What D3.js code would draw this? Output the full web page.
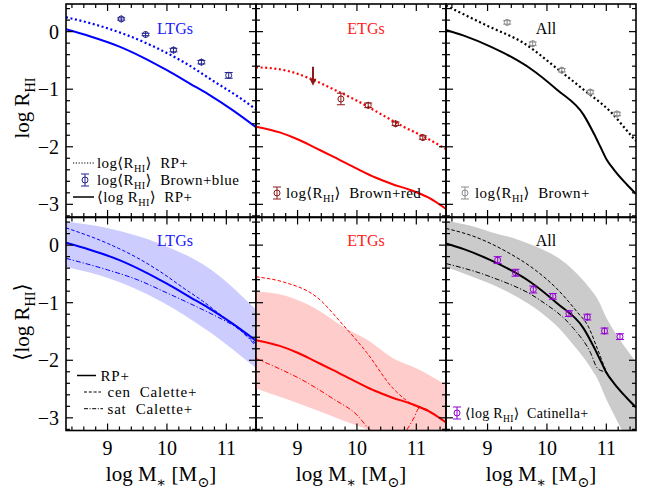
<!DOCTYPE html>
<html>
<head>
<meta charset="utf-8">
<script src="https://cdn.jsdelivr.net/npm/d3@7"></script>
<style>
    body { margin: 0; background: #fff; }
</style>
</head>
<body>
<svg id="chart" width="646" height="494"></svg>
<script>
// ---- top row: log R_HI ----
const ltgSolidX = [8.3, 8.7, 9.2, 9.6, 10.0, 10.4, 10.7, 11.1, 11.5];
const ltgSolidY = [0.04, -0.08, -0.26, -0.45, -0.67, -0.91, -1.09, -1.36, -1.66];
const ltgDotX = [8.3, 8.8, 9.3, 9.8, 10.3, 10.8, 11.2, 11.5];
const ltgDotY = [0.25, 0.12, -0.05, -0.27, -0.54, -0.87, -1.13, -1.35];
const brownBlueX = [9.23, 9.64, 10.11, 10.58, 11.04];
const brownBlueY = [0.22, -0.05, -0.32, -0.53, -0.76];
const brownBlueErr = [0.02, 0.02, 0.03, 0.03, 0.05];

const etgSolidX = [8.3, 8.7, 9.0, 9.3, 9.6, 10.0, 10.3, 10.6, 10.9, 11.2, 11.5];
const etgSolidY = [-1.65, -1.75, -1.87, -2.02, -2.17, -2.38, -2.53, -2.65, -2.75, -2.88, -3.08];
const etgDotX = [8.3, 8.6, 8.9, 9.2, 9.6, 10.0, 10.4, 10.8, 11.1, 11.5];
const etgDotY = [-0.62, -0.64, -0.70, -0.81, -1.0, -1.20, -1.43, -1.66, -1.81, -2.04];
const brownRedX = [9.73, 10.19, 10.65, 11.11];
const brownRedY = [-1.17, -1.28, -1.60, -1.84];
const brownRedErr = [0.1, 0.04, 0.03, 0.03];
const brownRedLimit = [9.26, -0.61, -0.94]; // x, from, to

const allSolidX = [8.3, 8.6, 9.05, 9.4, 9.72, 10.17, 10.62, 10.79, 10.9, 11.01, 11.13, 11.35, 11.5];
const allSolidY = [0.03, -0.07, -0.26, -0.44, -0.64, -1.01, -1.45, -1.77, -2.0, -2.23, -2.40, -2.66, -2.82];
const allDotX = [8.3, 8.54, 9.0, 9.61, 10.17, 10.62, 11.07, 11.43, 11.5];
const allDotY = [0.45, 0.33, 0.10, -0.20, -0.64, -1.01, -1.39, -1.82, -1.9];
const brownAllX = [9.33, 9.76, 10.25, 10.73, 11.18];
const brownAllY = [0.16, -0.21, -0.67, -1.05, -1.43];
const brownAllErr = [0.03, 0.03, 0.03, 0.03, 0.03];

// ---- bottom row: <log R_HI> ----
const ltgBandX = [8.3, 9.03, 9.87, 10.72, 11.5];
const ltgBandHi = [0.41, 0.29, 0.03, -0.41, -1.12];
const ltgBandLo = [-0.38, -0.58, -0.96, -1.51, -2.14];
const ltgCenX = [8.3, 9.0, 9.5, 9.9, 10.3, 10.6, 10.9, 11.2, 11.5];
const ltgCenY = [0.30, 0.03, -0.22, -0.47, -0.76, -0.97, -1.21, -1.45, -1.71];
const ltgSatX = [8.3, 9.0, 9.5, 10.0, 10.5, 10.8, 10.95, 11.2, 11.5];
const ltgSatY = [-0.23, -0.43, -0.60, -0.83, -1.07, -1.22, -1.30, -1.45, -1.75];

const etgBandX = [8.3, 8.8, 9.3, 9.8, 10.2, 10.6, 11.0, 11.5];
const etgBandHi = [-0.80, -0.88, -1.10, -1.44, -1.66, -1.96, -2.14, -2.43];
const etgBandLo = [-2.49, -2.67, -2.86, -3.06, -3.21, -3.37, -3.52, -3.71];
const etgCenX = [8.3, 8.76, 9.32, 9.77, 10.16, 10.61, 10.97, 11.2, 11.5];
const etgCenY = [-0.55, -0.64, -0.90, -1.39, -1.86, -2.49, -2.79, -2.88, -3.08];
const etgSatX = [8.3, 8.7, 9.04, 9.6, 10.0, 10.22, 10.45, 10.6, 10.7, 10.84, 10.95, 11.06, 11.3, 11.5];
const etgSatY = [-1.97, -2.15, -2.32, -2.67, -2.95, -3.21, -3.38, -3.45, -3.42, -3.21, -3.02, -2.82, -2.93, -3.08];

const allBandX = [8.3, 8.7, 9.05, 9.5, 9.89, 10.2, 10.45, 10.73, 10.85, 11.01, 11.18, 11.35, 11.5];
const allBandHi = [0.43, 0.34, 0.23, 0.10, -0.06, -0.23, -0.44, -0.76, -0.93, -1.28, -1.57, -1.82, -2.03];
const allBandLo = [-0.38, -0.53, -0.67, -0.90, -1.16, -1.44, -1.74, -2.12, -2.32, -2.70, -3.05, -3.40, -3.75];
const allCenX = [8.3, 8.8, 9.33, 9.8, 10.17, 10.5, 10.7, 10.85, 11.01, 11.13, 11.35, 11.5];
const allCenY = [0.29, 0.14, -0.12, -0.43, -0.76, -1.15, -1.42, -1.80, -2.21, -2.40, -2.66, -2.82];
const allSatX = [8.3, 9.05, 9.89, 10.45, 10.73, 10.85, 11.01, 11.13, 11.35, 11.5];
const allSatY = [-0.32, -0.55, -0.96, -1.45, -1.86, -2.14, -2.23, -2.40, -2.66, -2.82];
const catinellaX = [9.17, 9.47, 9.77, 10.1, 10.37, 10.68, 10.97, 11.23];
const catinellaY = [-0.26, -0.48, -0.77, -0.89, -1.19, -1.25, -1.49, -1.59];
const catinellaErr = [0.06, 0.06, 0.06, 0.05, 0.05, 0.05, 0.05, 0.05];

const xTicks = [9, 10, 11];
const yTicks = [-3, -2, -1, 0];
const panelNames = ["LTGs", "ETGs", "All"];

// ---- layout ----
const FONT = "'Liberation Serif', 'DejaVu Serif', serif";
const colX = [66, 256, 446], rowY = [4, 217.5];
const PW = 190, PH = 213;
const xDomain = [8.3, 11.5], yDomain = [-3.22, 0.48];
const svg = d3.select("#chart");

function makePanel(col, row) {
    const g = svg.append("g").attr("transform", `translate(${colX[col]},${rowY[row]})`);
    const x = d3.scaleLinear().domain(xDomain).range([0, PW]);
    const y = d3.scaleLinear().domain(yDomain).range([PH, 0]);
    const id = `clip${col}${row}`;
    g.append("clipPath").attr("id", id).append("rect").attr("width", PW).attr("height", PH);
    const plot = g.append("g").attr("clip-path", `url(#${id})`);
    return {g, x, y, plot, col, row};
}

function zip(xs, ys) { return xs.map((v, i) => [v, ys[i]]); }

function drawLine(p, xs, ys, color, width, dash) {
    const line = d3.line().x(d => p.x(d[0])).y(d => p.y(d[1])).curve(d3.curveMonotoneX);
    p.plot.append("path").datum(zip(xs, ys))
        .attr("d", line)
        .attr("fill", "none")
        .attr("stroke", color)
        .attr("stroke-width", width)
        .attr("stroke-dasharray", dash || null);
}

function drawBand(p, xs, lo, hi, fill) {
    const area = d3.area().x(d => p.x(d[0])).y0(d => p.y(d[1])).y1(d => p.y(d[2])).curve(d3.curveMonotoneX);
    p.plot.append("path").datum(xs.map((v, i) => [v, lo[i], hi[i]]))
        .attr("d", area).attr("fill", fill);
}

function marker(g, cx, cy, half, color) {
    const r = 3;
    const h = Math.max(half, r + 0.5);
    g.append("line").attr("x1", cx).attr("x2", cx).attr("y1", cy - h).attr("y2", cy + h)
        .attr("stroke", color).attr("stroke-width", 1);
    [cy - half, cy + half].forEach(yy => {
        g.append("line").attr("x1", cx - 4).attr("x2", cx + 4).attr("y1", yy).attr("y2", yy)
            .attr("stroke", color).attr("stroke-width", 1);
    });
    g.append("circle").attr("cx", cx).attr("cy", cy).attr("r", r)
        .attr("fill", "none").attr("stroke", color).attr("stroke-width", 1);
}

function drawPoints(p, xs, ys, errs, color) {
    xs.forEach((v, i) => {
        const half = Math.abs(p.y(ys[i] + errs[i]) - p.y(ys[i]));
        marker(p.g, p.x(v), p.y(ys[i]), half, color);
    });
}

function drawFrame(p) {
    const g = p.g;
    const minorX = d3.range(8.4, 11.5, 0.2).filter(v => Math.abs(v - Math.round(v)) > 0.01);
    const minorY = d3.range(-3.2, 0.48, 0.2).filter(v => Math.abs(v - Math.round(v)) > 0.01);
    const tk = (x1, y1, x2, y2) => g.append("line").attr("x1", x1).attr("y1", y1).attr("x2", x2).attr("y2", y2)
        .attr("stroke", "#000").attr("stroke-width", 1.2);
    xTicks.forEach(v => { const xx = p.x(v); tk(xx, PH, xx, PH - 7); tk(xx, 0, xx, 7); });
    minorX.forEach(v => { const xx = p.x(v); tk(xx, PH, xx, PH - 4); tk(xx, 0, xx, 4); });
    yTicks.forEach(v => { const yy = p.y(v); tk(0, yy, 7, yy); tk(PW, yy, PW - 7, yy); });
    minorY.forEach(v => { const yy = p.y(v); tk(0, yy, 4, yy); tk(PW, yy, PW - 4, yy); });
    g.append("rect").attr("width", PW).attr("height", PH)
        .attr("fill", "none").attr("stroke", "#000").attr("stroke-width", 1.6);

    if (p.col === 0) {
        yTicks.forEach(v => {
            g.append("text").attr("x", -7).attr("y", p.y(v) + 7)
                .attr("text-anchor", "end").attr("font-family", FONT).attr("font-size", 20)
                .text(v < 0 ? "\u2212" + Math.abs(v) : v);
        });
    }
    if (p.row === 1) {
        xTicks.forEach(v => {
            g.append("text").attr("x", p.x(v)).attr("y", 455 - rowY[1])
                .attr("text-anchor", "middle").attr("font-family", FONT).attr("font-size", 20)
                .text(v);
        });
    }
}

// rich text with subscripts: parts = strings or {sub: "..."}
function richText(parent, x, y, parts, size, opts = {}) {
    const t = parent.append("text").attr("x", x).attr("y", y)
        .attr("font-family", FONT).attr("font-size", size)
        .attr("fill", opts.fill || "#000")
        .attr("letter-spacing", opts.spacing || 0)
        .style("white-space", "pre")
        .attr("text-anchor", opts.anchor || "start");
    if (opts.rotate) t.attr("transform", `rotate(-90,${x},${y})`);
    let down = false;
    parts.forEach(part => {
        if (typeof part === "string") {
            t.append("tspan").attr("dy", down ? -0.3 * size : 0).text(part);
            down = false;
        } else {
            t.append("tspan").attr("dy", 0.3 * size).attr("font-size", size * 0.68).text(part.sub);
            down = true;
        }
    });
    return t;
}

// ---- panels ----
const panels = [];
for (let row = 0; row < 2; row++) {
    for (let col = 0; col < 3; col++) panels.push(makePanel(col, row));
}
const P = (col, row) => panels[row * 3 + col];

// top row
drawLine(P(0, 0), ltgDotX, ltgDotY, "#0000ff", 2.2, "2,2.6");
drawLine(P(0, 0), ltgSolidX, ltgSolidY, "#0000ff", 2);
drawPoints(P(0, 0), brownBlueX, brownBlueY, brownBlueErr, "#23238e");

drawLine(P(1, 0), etgDotX, etgDotY, "#ff0000", 2.2, "2,2.6");
drawLine(P(1, 0), etgSolidX, etgSolidY, "#ff0000", 2);
drawPoints(P(1, 0), brownRedX, brownRedY, brownRedErr, "#8b1a1a");
(function () {
    const p = P(1, 0);
    const ax = p.x(brownRedLimit[0]), y0 = p.y(brownRedLimit[1]), y1 = p.y(brownRedLimit[2]);
    p.g.append("line").attr("x1", ax).attr("x2", ax).attr("y1", y0).attr("y2", y1 - 5)
        .attr("stroke", "#8b1a1a").attr("stroke-width", 2);
    p.g.append("path").attr("d", `M${ax - 3.5},${y1 - 7}L${ax + 3.5},${y1 - 7}L${ax},${y1}Z`)
        .attr("fill", "#8b1a1a");
})();

drawLine(P(2, 0), allDotX, allDotY, "#000", 2.2, "2,2.6");
drawLine(P(2, 0), allSolidX, allSolidY, "#000", 2);
drawPoints(P(2, 0), brownAllX, brownAllY, brownAllErr, "#8c8c8c");

// bottom row
drawBand(P(0, 1), ltgBandX, ltgBandLo, ltgBandHi, "#ccccff");
drawLine(P(0, 1), ltgCenX, ltgCenY, "#0000ff", 1, "3.5,2");
drawLine(P(0, 1), ltgSatX, ltgSatY, "#0000ff", 1, "5,2,1.2,2");
drawLine(P(0, 1), ltgSolidX, ltgSolidY, "#0000ff", 2);

drawBand(P(1, 1), etgBandX, etgBandLo, etgBandHi, "#ffcccc");
drawLine(P(1, 1), etgCenX, etgCenY, "#ff0000", 1, "3.5,2");
drawLine(P(1, 1), etgSatX, etgSatY, "#ff0000", 1, "5,2,1.2,2");
drawLine(P(1, 1), etgSolidX, etgSolidY, "#ff0000", 2);

drawBand(P(2, 1), allBandX, allBandLo, allBandHi, "#cbcbcb");
drawLine(P(2, 1), allCenX, allCenY, "#000", 1, "3.5,2");
drawLine(P(2, 1), allSatX, allSatY, "#000", 1, "5,2,1.2,2");
drawLine(P(2, 1), allSolidX, allSolidY, "#000", 2);
drawPoints(P(2, 1), catinellaX, catinellaY, catinellaErr, "#9400d3");

panels.forEach(drawFrame);

// panel labels
const labelColors = ["#1a1aff", "#ff2020", "#000"];
const labelX = [109, 110, 100];
panels.forEach(p => {
    p.g.append("text").attr("x", labelX[p.col]).attr("y", p.row === 0 ? 30 : 28)
        .attr("text-anchor", "middle").attr("font-family", FONT).attr("font-size", 16)
        .attr("fill", labelColors[p.col]).text(panelNames[p.col]);
});

// legends
function legLine(x1, x2, y, dash, width) {
    svg.append("line").attr("x1", x1).attr("x2", x2).attr("y1", y).attr("y2", y)
        .attr("stroke", "#000").attr("stroke-width", width).attr("stroke-dasharray", dash || null);
}
const LEG = 15, SP = 0.4;
legLine(73, 94, 163, "1.2,1.6", 1);
richText(svg, 97, 167.5, ["log\u27E8R", {sub: "HI"}, "\u27E9  RP+"], LEG, {spacing: SP});
marker(svg, 85, 180, 6, "#23238e");
richText(svg, 97, 184.5, ["log\u27E8R", {sub: "HI"}, "\u27E9  Brown+blue"], LEG, {spacing: SP});
legLine(73, 94, 197, null, 1.5);
richText(svg, 97, 201.5, ["\u27E8log R", {sub: "HI"}, "\u27E9  RP+"], LEG, {spacing: SP});

marker(svg, 277, 193, 6, "#8b1a1a");
richText(svg, 286, 197.5, ["log\u27E8R", {sub: "HI"}, "\u27E9  Brown+red"], LEG, {spacing: SP});
marker(svg, 465, 193, 6, "#8c8c8c");
richText(svg, 475, 197.5, ["log\u27E8R", {sub: "HI"}, "\u27E9  Brown+"], LEG, {spacing: SP});

legLine(77, 96, 375.5, null, 1.5);
richText(svg, 100.5, 380.5, ["RP+"], LEG, {spacing: 0.8});
legLine(84, 101, 392, "3,1.8", 1);
richText(svg, 107.5, 397, ["cen  Calette+"], LEG, {spacing: 0.8});
legLine(84, 103, 408.7, "4,1.6,1,1.6", 1);
richText(svg, 107.5, 413.5, ["sat  Calette+"], LEG, {spacing: 0.8});

marker(svg, 457, 413, 6, "#9400d3");
richText(svg, 465, 417.5, ["\u27E8log R", {sub: "HI"}, "\u27E9  Catinella+"], 14, {spacing: 0.3});

// axis titles
richText(svg, 29, 108, ["log R", {sub: "HI"}], 21, {anchor: "middle", rotate: true});
richText(svg, 29, 322, ["\u27E8log R", {sub: "HI"}, "\u27E9"], 21, {anchor: "middle", rotate: true});
colX.forEach(cx => {
    richText(svg, cx + PW / 2, 481, ["log M", {sub: "\u2217"}, " [M", {sub: "\u2299"}, "]"], 21, {anchor: "middle"});
});
</script>
</body>
</html>
